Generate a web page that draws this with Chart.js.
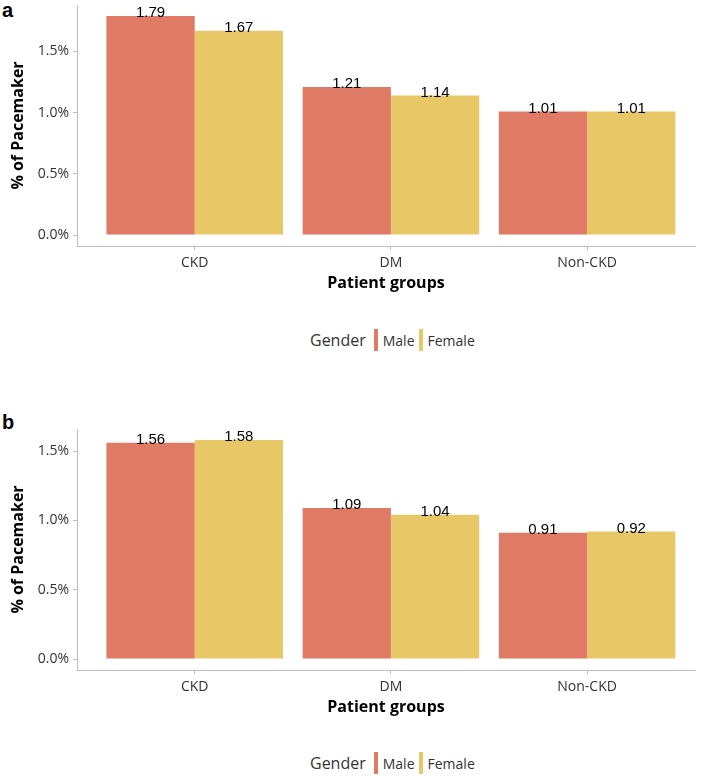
<!DOCTYPE html>
<html>
<head>
<meta charset="utf-8">
<script src="https://cdn.jsdelivr.net/npm/chart.js@4.4.1/dist/chart.umd.min.js"></script>
<style>
  body { margin:0; background:#fff; width:707px; height:776px; position:relative; overflow:hidden; font-family:"Open Sans","Noto Sans",sans-serif; }
  canvas { position:absolute; left:0; }
  .panel { position:absolute; left:2px; font:bold 20px "Liberation Sans", Arial, sans-serif; color:#000; line-height:1; }
  .legend { position:absolute; left:310px; height:22px; display:flex; align-items:center; color:#333; }
  .legend .ttl { font-size:16px; margin-right:8px; }
  .legend .sw { width:4px; height:22px; margin-right:5px; }
  .legend .it { font-size:14px; margin-right:4px; }
</style>
</head>
<body>
<div class="panel" style="top:0px">a</div>
<canvas id="chartA" width="707" height="300" style="top:0px"></canvas>
<div class="legend" style="top:329px">
  <span class="ttl">Gender</span><span class="sw" style="background:#DF7A65"></span><span class="it">Male</span><span class="sw" style="background:#E8C767"></span><span class="it">Female</span>
</div>

<div class="panel" style="top:412px">b</div>
<canvas id="chartB" width="707" height="300" style="top:424px"></canvas>
<div class="legend" style="top:752px">
  <span class="ttl">Gender</span><span class="sw" style="background:#DF7A65"></span><span class="it">Male</span><span class="sw" style="background:#E8C767"></span><span class="it">Female</span>
</div>

<script>
const categories = ['CKD', 'DM', 'Non-CKD'];
const seriesNames = ['Male', 'Female'];
const maleA   = [1.79, 1.21, 1.01];
const femaleA = [1.67, 1.14, 1.01];
const maleB   = [1.56, 1.09, 0.91];
const femaleB = [1.58, 1.04, 0.92];
const yTickValues = [0, 0.5, 1.0, 1.5];
const colors = ['#DF7A65', '#E8C767'];

const valueLabels = {
  id: 'valueLabels',
  afterDatasetsDraw(chart) {
    const ctx = chart.ctx;
    ctx.save();
    ctx.font = '15px "Liberation Sans", Arial, sans-serif';
    ctx.fillStyle = '#000';
    ctx.textAlign = 'center';
    ctx.textBaseline = 'alphabetic';
    chart.data.datasets.forEach((ds, di) => {
      const meta = chart.getDatasetMeta(di);
      meta.data.forEach((el, i) => {
        ctx.fillText(ds.data[i].y.toFixed(2), el.x, el.y + 1.5);
      });
    });
    ctx.restore();
  }
};

function makeChart(id, male, female) {
  const all = male.concat(female);
  const pad = Math.max(...all) * 0.05;
  const gray = '#bdbdbd';
  const font = '"Open Sans", "Noto Sans", sans-serif';
  return new Chart(document.getElementById(id), {
    type: 'bar',
    data: {
      datasets: [
        { label: seriesNames[0], data: male.map((v, i) => ({ x: i, y: v })), backgroundColor: colors[0], borderWidth: 0 },
        { label: seriesNames[1], data: female.map((v, i) => ({ x: i, y: v })), backgroundColor: colors[1], borderWidth: 0 }
      ]
    },
    options: {
      responsive: false,
      animation: false,
      events: [],
      layout: { padding: { top: 5, right: 12, bottom: 0, left: 0 } },
      datasets: { bar: { categoryPercentage: 0.9, barPercentage: 1.0 } },
      plugins: { legend: { display: false }, tooltip: { enabled: false } },
      scales: {
        x: {
          type: 'linear',
          min: -0.6, max: 2.55,
          offset: false,
          afterBuildTicks: (s) => { s.ticks = categories.map((c, i) => ({ value: i })); },
          afterFit: (s) => { s.height = 54; s.paddingLeft = 0; s.paddingRight = 0; },
          ticks: {
            callback: (v) => categories[v],
            color: '#333',
            font: { family: font, size: 14 },
            padding: 5,
            maxRotation: 0,
            autoSkip: false
          },
          grid: { display: true, drawOnChartArea: false, drawTicks: true, tickLength: 4, color: gray, offset: false },
          border: { display: true, color: gray, width: 1 },
          title: {
            display: true, text: 'Patient groups', color: '#000',
            font: { family: font, size: 16, weight: 'bold' },
            padding: { top: 0, bottom: 7 }
          }
        },
        y: {
          min: -pad, max: Math.max(...all) + pad,
          afterBuildTicks: (s) => { s.ticks = yTickValues.map(v => ({ value: v })); },
          afterFit: (s) => { s.width = 77; s.paddingTop = 0; s.paddingBottom = 0; },
          ticks: {
            callback: (v) => v.toFixed(1) + '%',
            color: '#333',
            font: { family: font, size: 14 },
            padding: 4
          },
          grid: { display: true, drawOnChartArea: false, drawTicks: true, tickLength: 4, color: gray },
          border: { display: true, color: gray, width: 1 },
          title: {
            display: true, text: '% of Pacemaker', color: '#000',
            font: { family: font, size: 16, weight: 'bold' },
            padding: { top: 9, bottom: 0 }
          }
        }
      }
    },
    plugins: [valueLabels]
  });
}

makeChart('chartA', maleA, femaleA);
makeChart('chartB', maleB, femaleB);
</script>
</body>
</html>
